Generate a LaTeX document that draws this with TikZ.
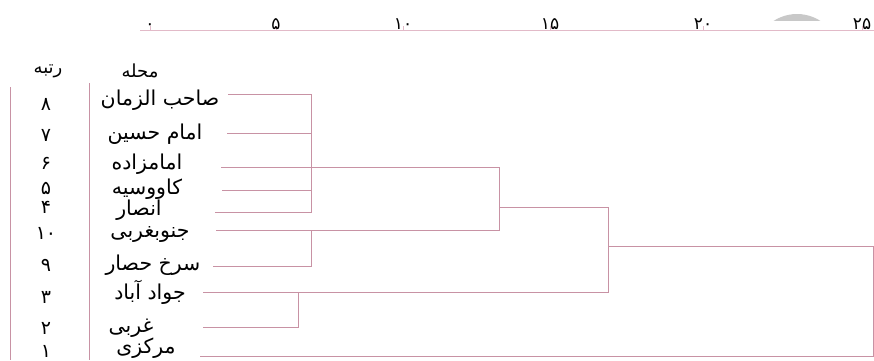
\documentclass[tikz,border=0pt]{standalone}
\usepackage{fontspec}
\usetikzlibrary{positioning}
\TeXXeTstate=1
\newfontfamily\fafont[Script=Arabic]{DejaVu Sans}
\definecolor{lnc}{RGB}{200,146,164}
\definecolor{axc}{RGB}{226,186,200}
\definecolor{capc}{RGB}{200,200,200}
\tikzset{
  nm/.style={font=\fafont\fontsize{20.5}{24}\selectfont,inner sep=0pt},
  rk/.style={font=\fafont\fontsize{19}{22}\selectfont,inner sep=0pt},
  hd/.style={font=\fafont\fontsize{18}{21}\selectfont,inner sep=0pt},
  tk/.style={font=\fafont\fontsize{17}{20}\selectfont,inner sep=0pt,anchor=base},
  br/.style={draw=lnc,line width=0.9pt},
  axl/.style={draw=axc,line width=0.9pt},
}

\begin{document}
\begin{tikzpicture}[x=1pt,y=-1pt]
    \useasboundingbox (0,0) rectangle (874,360);
    \clip (0,0) rectangle (874,360);

    % Scale along the top
    \coordinate (ax0) at (140,30);
    \coordinate (ax1) at (874,30);
    \draw[axl] (ax0)--(ax1);
    \foreach \v/\x in {۰/150,۵/276,۱۰/403,۱۵/550,۲۰/703,۲۵/862}{
      \draw[axl] (\x,30)--++(0,-4);
      \node[tk] (t\x) at (\x,29) {\v};
    }
    \begin{scope}
      \clip (760,0) rectangle (840,20);
      \fill[capc] (797,57) circle (43);
    \end{scope}

    % Table columns
    \node[hd] (hrank) at (48,71) {\beginR رتبه\endR};
    \node[hd] (hname) at (140,71) {\beginR محله\endR};
    \coordinate (c1t) at (10,87);
    \coordinate (c1b) at (10,360);
    \coordinate (c2t) at (89,83);
    \coordinate (c2b) at (89,360);
    \draw[br] (c1t)--(c1b);
    \draw[br] (c2t)--(c2b);

    % Ranks and neighbourhoods
    \foreach \r/\y in {۸/104,۷/135,۶/163,۵/188,۴/207,۱۰/233,۹/265,۳/297,۲/328,۱/351}
      \node[rk] (r\y) at (46,\y) {\r};
    \node[nm] (n8) at (160,100) {\beginR صاحب الزمان\endR};
    \node[nm] (n7) at (155,134) {\beginR امام حسین\endR};
    \node[nm] (n6) at (147,164) {\beginR امامزاده\endR};
    \node[nm] (n5) at (147,189) {\beginR کاووسیه\endR};
    \node[nm] (n4) at (139,210) {\beginR انصار\endR};
    \node[nm] (n10) at (150,234) {\beginR جنوبغربی\endR};
    \node[nm] (n9) at (153,265) {\beginR سرخ حصار\endR};
    \node[nm] (n3) at (150,292) {\beginR جواد آباد\endR};
    \node[nm] (n2) at (131,328) {\beginR غربی\endR};
    \node[nm] (n1) at (146,348) {\beginR مرکزی\endR};

    % Leaf ends
    \coordinate (a8) at (228,94);
    \coordinate (a7) at (227,133);
    \coordinate (a6) at (221,167);
    \coordinate (a5) at (222,190);
    \coordinate (a4) at (215,212);
    \coordinate (a10) at (216,230);
    \coordinate (a9) at (213,266);
    \coordinate (a3) at (203,292);
    \coordinate (a2) at (203,327);
    \coordinate (a1) at (200,356);

    % Joins
    \coordinate (j1) at (311,212);
    \coordinate (j2) at (311,230);
    \coordinate (j3) at (499,230);
    \coordinate (j4) at (499,207);
    \coordinate (j5) at (608,292);
    \coordinate (j6) at (298,292);
    \coordinate (j7) at (608,246);
    \coordinate (j8) at (873,356);

    \draw[br] (a8)-|(j1)--(a4);
    \draw[br] (a7)--(a7-|j1);
    \draw[br] (a5)--(a5-|j1);
    \draw[br] (a9)-|(j2);
    \draw[br] (a6)-|(j3)--(a10);
    \draw[br] (j4)-|(j5)--(a3);
    \draw[br] (a2)-|(j6);
    \draw[br] (j7)-|(j8)--(a1);
  \end{tikzpicture}
\end{document}
